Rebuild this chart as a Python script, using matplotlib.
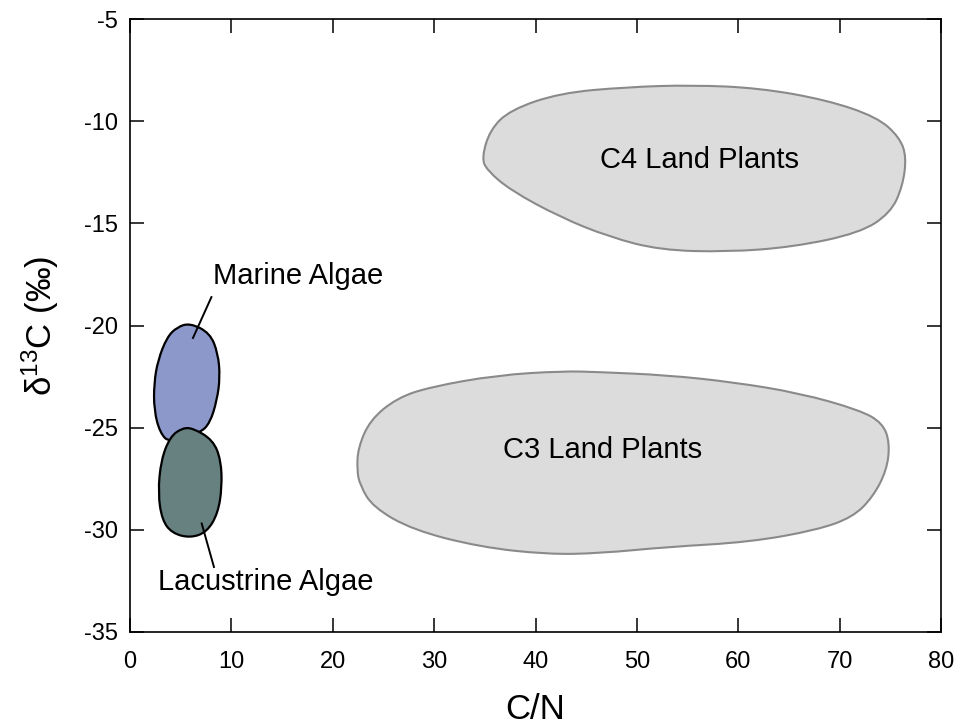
import numpy as np
import matplotlib
matplotlib.use("Agg")
import matplotlib.pyplot as plt
from matplotlib.path import Path
from matplotlib.patches import PathPatch

plt.rcParams['font.family'] = ['Liberation Sans', 'DejaVu Sans']
plt.rcParams['mathtext.default'] = 'regular'
plt.rcParams['axes.unicode_minus'] = False

# ---- region outlines (C/N, d13C) ----
c4_x = [34.7, 35.2, 37.5, 42.4, 47.3, 52.3, 58.9, 65.4, 72.0, 75.0, 76.2, 76.6,
        75.9, 73.7, 68.7, 62.1, 55.5, 49.0, 42.4, 37.5, 35.5]
c4_y = [-11.80, -12.39, -13.37, -14.69, -15.67, -16.31, -16.40, -16.16, -15.47,
        -14.50, -13.22, -11.75, -10.78, -9.80, -8.96, -8.38, -8.23, -8.33, -8.62,
        -9.45, -10.43]

c3_x = [22.39, 22.49, 23.67, 26.33, 29.59, 36.19, 42.70, 46.35, 52.96, 59.47,
        66.07, 71.99, 74.26, 74.95, 74.65, 73.27, 71.30, 67.75, 61.14, 52.96,
        46.35, 41.12, 34.52, 27.91, 23.96, 22.68]
c3_y = [-27.08, -26.00, -24.63, -23.55, -23.01, -22.43, -22.23, -22.28, -22.43,
        -22.77, -23.31, -24.14, -24.78, -25.76, -27.08, -28.40, -29.38, -30.01,
        -30.60, -30.84, -31.15, -31.20, -30.84, -30.01, -28.89, -27.81]

marine_x = [5.92, 7.89, 8.68, 8.88, 8.58, 7.89, 6.90, 3.94, 2.96, 2.37, 2.37,
            2.76, 3.65, 4.64]
marine_y = [-19.88, -20.37, -21.37, -22.52, -23.65, -24.77, -25.26, -25.75,
            -25.26, -24.14, -22.82, -21.69, -20.57, -20.08]

lacus_x = [6.21, 8.19, 8.97, 9.07, 8.68, 7.59, 5.92, 4.14, 3.16, 2.76, 3.06,
           3.94, 5.13]
lacus_y = [-25.02, -25.61, -26.59, -27.91, -29.18, -30.11, -30.40, -30.16,
           -29.52, -28.20, -26.59, -25.46, -25.02]

region_labels = ["C4 Land Plants", "C3 Land Plants"]
region_label_x = [56.2, 46.6]
region_label_y = [-11.9, -26.1]

algae_labels = ["Marine Algae", "Lacustrine Algae"]
algae_text_x = [8.2, 2.75]
algae_text_y = [-17.6, -32.55]
leader_x = [[6.21, 8.03], [7.07, 8.28]]
leader_y = [[-20.61, -18.61], [-29.69, -31.82]]

x_ticks = [0, 10, 20, 30, 40, 50, 60, 70, 80]
y_ticks = [-35, -30, -25, -20, -15, -10, -5]


def smooth_closed_path(xs, ys):
    pts = np.column_stack([xs, ys])
    mids = (pts + np.roll(pts, -1, axis=0)) / 2.0
    verts = [mids[-1]]
    codes = [Path.MOVETO]
    for i in range(len(pts)):
        verts += [pts[i], mids[i]]
        codes += [Path.CURVE3, Path.CURVE3]
    verts.append(mids[-1])
    codes.append(Path.CLOSEPOLY)
    return Path(verts, codes)


fig = plt.figure(figsize=(9.56, 7.26), dpi=100)
ax = fig.add_axes([0.136, 0.1295, 0.8483, 0.8443])

land_style = dict(facecolor='#dcdcdc', edgecolor='#8a8a8a', linewidth=1.5)
ax.add_patch(PathPatch(smooth_closed_path(c4_x, c4_y), **land_style))
ax.add_patch(PathPatch(smooth_closed_path(c3_x, c3_y), **land_style))
ax.add_patch(PathPatch(smooth_closed_path(marine_x, marine_y),
                       facecolor='#8d98ca', edgecolor='black', linewidth=1.6))
ax.add_patch(PathPatch(smooth_closed_path(lacus_x, lacus_y),
                       facecolor='#678080', edgecolor='black', linewidth=1.6))

for lab, tx, ty in zip(region_labels, region_label_x, region_label_y):
    ax.text(tx, ty, lab, ha='center', va='center', fontsize=21)

for lab, tx, ty, lx, ly in zip(algae_labels, algae_text_x, algae_text_y,
                                leader_x, leader_y):
    ax.plot(lx, ly, color='black', linewidth=1.4)
    ax.text(tx, ty, lab, ha='left', va='center', fontsize=21)

ax.set_xlim(0, 80)
ax.set_ylim(-35, -5)
ax.set_xticks(x_ticks)
ax.set_yticks(y_ticks)
ax.tick_params(direction='in', length=10, width=1.1, labelsize=17,
               top=True, right=True)
ax.tick_params(axis='x', pad=14)
ax.tick_params(axis='y', pad=9)
for sp in ax.spines.values():
    sp.set_linewidth(1.2)

ax.set_xlabel('C/N', fontsize=25, labelpad=14)
ax.set_ylabel('δ$^{13}$C (‰)', fontsize=25, labelpad=16)

fig.savefig('out.png', dpi=100)
